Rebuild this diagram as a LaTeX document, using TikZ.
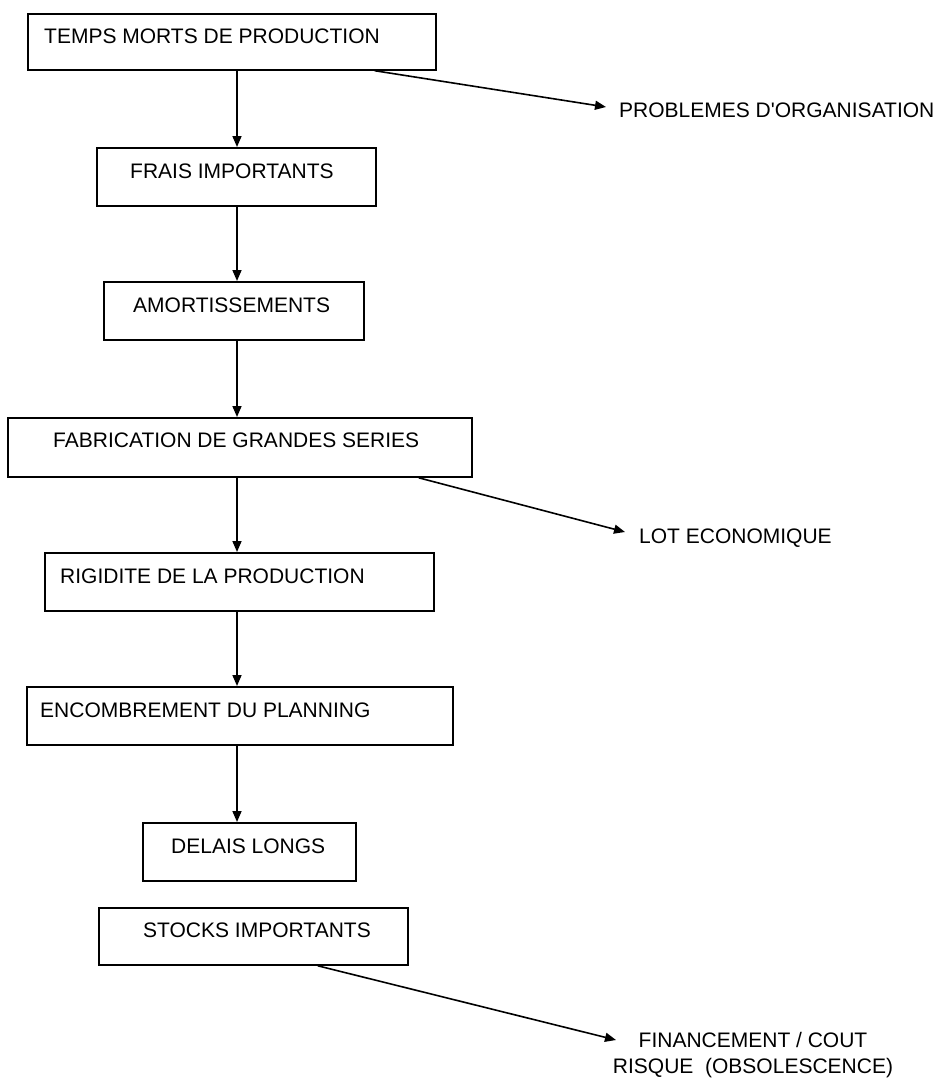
\documentclass[tikz,border=0pt]{standalone}
\usepackage{fontspec}
\setmainfont{Liberation Sans}
\usetikzlibrary{arrows.meta}
\begin{document}
\begin{tikzpicture}[x=1pt,y=-1pt,
  box/.style={draw=black,line width=1.6pt,rectangle,anchor=north west,inner sep=0pt},
  lbl/.style={anchor=base west,inner sep=0pt,font=\fontsize{21}{26}\selectfont},
  outc/.style={anchor=base west,inner sep=0pt,font=\fontsize{21}{26}\selectfont},
  arr/.style={line width=1.6pt,-{Triangle[length=11pt,width=9pt]},shorten <=0.8pt}]
\useasboundingbox (0,0) rectangle (945,1079);
% boxes
\node[box,minimum width=408pt,minimum height=56pt] (b1) at (27,13) {};
\node[box,minimum width=279pt,minimum height=58pt] (b2) at (96,147) {};
\node[box,minimum width=260pt,minimum height=58pt] (b3) at (103,281) {};
\node[box,minimum width=464pt,minimum height=59pt] (b4) at (7,417) {};
\node[box,minimum width=389pt,minimum height=58pt] (b5) at (44,552) {};
\node[box,minimum width=426pt,minimum height=58pt] (b6) at (26,686) {};
\node[box,minimum width=213pt,minimum height=58pt] (b7) at (142,822) {};
\node[box,minimum width=309pt,minimum height=57pt] (b8) at (98,907) {};
% box texts
\node[lbl] (t1) at (44,43) {TEMPS MORTS DE PRODUCTION};
\node[lbl] (t2) at (130,178) {FRAIS IMPORTANTS};
\node[lbl] (t3) at (133,312) {AMORTISSEMENTS};
\node[lbl] (t4) at (53,447) {FABRICATION DE GRANDES SERIES};
\node[lbl] (t5) at (60,583) {RIGIDITE DE LA PRODUCTION};
\node[lbl] (t6) at (40,717) {ENCOMBREMENT DU PLANNING};
\node[lbl] (t7) at (171,853) {DELAIS LONGS};
\node[lbl] (t8) at (143,937) {STOCKS IMPORTANTS};
% outcomes
\node[outc] (o1) at (619,117) {PROBLEMES D\textquotesingle ORGANISATION};
\node[outc] (o2) at (639,543) {LOT ECONOMIQUE};
\node[anchor=north,inner sep=0pt,align=center,font=\fontsize{21}{26}\selectfont] (o3) at (753,1032) {FINANCEMENT / COUT\\RISQUE\ \ (OBSOLESCENCE)};
% helper coordinates
\coordinate (ax) at (237,0);
\coordinate (s1) at (374,0);
\coordinate (s2) at (418,0);
\coordinate (s3) at (317,0);
\coordinate (e1) at (606,107);
\coordinate (e2) at (625,532);
\coordinate (e3) at (616,1040);
% vertical arrows
\draw[arr] (b1.south -| ax) -- (b2.north -| ax);
\draw[arr] (b2.south -| ax) -- (b3.north -| ax);
\draw[arr] (b3.south -| ax) -- (b4.north -| ax);
\draw[arr] (b4.south -| ax) -- (b5.north -| ax);
\draw[arr] (b5.south -| ax) -- (b6.north -| ax);
\draw[arr] (b6.south -| ax) -- (b7.north -| ax);
% diagonal arrows
\draw[arr] (b1.south -| s1) -- (e1);
\draw[arr] (b4.south -| s2) -- (e2);
\draw[arr] (b8.south -| s3) -- (e3);
\end{tikzpicture}
\end{document}
